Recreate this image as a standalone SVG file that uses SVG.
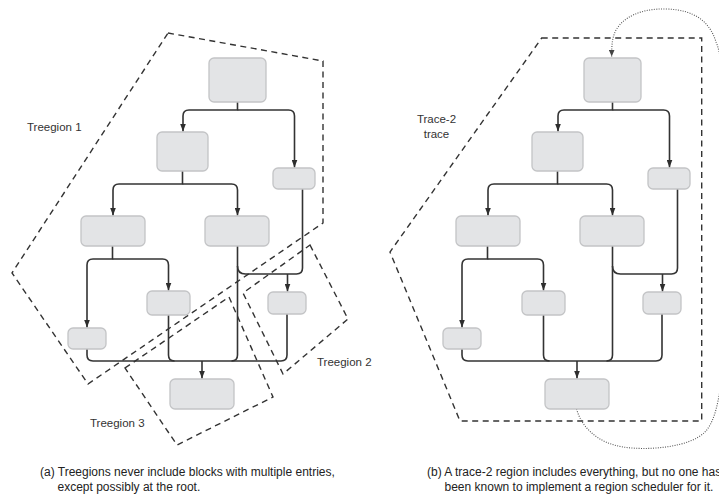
<svg xmlns="http://www.w3.org/2000/svg" width="719" height="495" viewBox="0 0 719 495">
<defs>
<marker id="arr" markerUnits="userSpaceOnUse" markerWidth="8" markerHeight="6" refX="8" refY="3" orient="auto"><path d="M0,0 L8,3 L0,6 z" fill="#2e2e2e"/></marker>
<marker id="arrd" markerUnits="userSpaceOnUse" markerWidth="7" markerHeight="6" refX="7" refY="3" orient="auto"><path d="M0,0 L7,3 L0,6 z" fill="#444"/></marker>
</defs>
<style>
.n{fill:#e3e4e6;stroke:#c3c4c6;stroke-width:1.3}
.c{fill:none;stroke:#333;stroke-width:1.6}
.a{marker-end:url(#arr)}
.d{fill:none;stroke:#333;stroke-width:1.4;stroke-dasharray:6 4.5}
.dot{fill:none;stroke:#555;stroke-width:1.1;stroke-dasharray:1 1.4}
.t{font-family:"Liberation Sans",Arial,sans-serif;font-size:11.5px;fill:#333}
.cap{font-family:"Liberation Sans",Arial,sans-serif;font-size:12px;fill:#222}
</style>

<g id="regions">
<polygon class="d" points="168,33 323,61 323,223 88,384 12,273"/>
<polygon class="d" points="310,245 348,319 283,374 243,293"/>
<polygon class="d" points="125,368 229,297 273,397 177,445"/>
<polygon class="d" points="541.7,38 701.7,38 701.7,421 460,421 390,252"/>
</g>

<g id="connectors">
<path class="c a" d="M237.5,102 V110 H189 Q183,110 183,116 V131.5"/>
<path class="c a" d="M237.5,110 H288.5 Q294.5,110 294.5,116 V167.5"/>
<path class="c a" d="M182.5,171 V184 H119 Q113,184 113,190 V215.5"/>
<path class="c a" d="M182.5,184 H231.5 Q237.5,184 237.5,190 V215.5"/>
<path class="c" d="M237.5,246 V355 Q237.5,361 231.5,361"/>
<path class="c" d="M237.5,266 Q237.5,274 245.5,274 H296.5 Q302.5,274 302.5,268 V189"/>
<path class="c a" d="M287.5,274 V291.5"/>
<path class="c a" d="M112.5,246 V259 H93 Q87,259 87,265 V327.5"/>
<path class="c a" d="M112.5,259 H162.5 Q168.5,259 168.5,265 V290.5"/>
<path class="c" d="M87,349 V355 Q87,361 93,361 H281 Q287,361 287,355 V314"/>
<path class="c" d="M168.5,315 V355 Q168.5,361 174.5,361"/>
<path class="c a" d="M202,361 V378.5"/>

<path class="c a" d="M612.5,102 V110 H564 Q558,110 558,116 V131.5"/>
<path class="c a" d="M612.5,110 H663.5 Q669.5,110 669.5,116 V167.5"/>
<path class="c a" d="M557.5,171 V184 H494 Q488,184 488,190 V215.5"/>
<path class="c a" d="M557.5,184 H606.5 Q612.5,184 612.5,190 V215.5"/>
<path class="c" d="M612.5,246 V355 Q612.5,361 606.5,361"/>
<path class="c" d="M612.5,266 Q612.5,274 620.5,274 H671.5 Q677.5,274 677.5,268 V189"/>
<path class="c a" d="M662.5,274 V291.5"/>
<path class="c a" d="M487.5,246 V259 H468 Q462,259 462,265 V327.5"/>
<path class="c a" d="M487.5,259 H537.5 Q543.5,259 543.5,265 V290.5"/>
<path class="c" d="M462,349 V355 Q462,361 468,361 H656 Q662,361 662,355 V314"/>
<path class="c" d="M543.5,315 V355 Q543.5,361 549.5,361"/>
<path class="c a" d="M577,361 V378.5"/>

<path class="dot" marker-end="url(#arrd)" d="M576.5,409 C582,428 598,443 623,447 C650,451 690,447 705,432 C716,420 718,400 722,380 L726,100 C722,70 720,50 716,42 C710,22 695,10 667,9 C640,8 623,18 616,30 C612,38 611.7,45 611.7,56.5"/>
</g>

<g id="a-root"><rect class="n" x="209" y="58" width="57" height="44" rx="5"/></g>
<g id="a-n2"><rect class="n" x="157" y="132" width="51" height="39" rx="5"/></g>
<g id="a-n3"><rect class="n" x="273" y="168" width="42" height="21" rx="5"/></g>
<g id="a-n4"><rect class="n" x="81" y="216" width="64" height="30" rx="5"/></g>
<g id="a-n5"><rect class="n" x="205" y="216" width="64" height="30" rx="5"/></g>
<g id="a-n6"><rect class="n" x="268" y="292" width="38" height="22" rx="5"/></g>
<g id="a-n7"><rect class="n" x="68" y="328" width="38" height="21" rx="5"/></g>
<g id="a-n8"><rect class="n" x="147" y="291" width="43" height="24" rx="5"/></g>
<g id="a-n9"><rect class="n" x="170" y="379" width="64" height="30" rx="5"/></g>

<g id="b-root"><rect class="n" x="584" y="58" width="57" height="44" rx="5"/></g>
<g id="b-n2"><rect class="n" x="532" y="132" width="51" height="39" rx="5"/></g>
<g id="b-n3"><rect class="n" x="648" y="168" width="42" height="21" rx="5"/></g>
<g id="b-n4"><rect class="n" x="456" y="216" width="64" height="30" rx="5"/></g>
<g id="b-n5"><rect class="n" x="580" y="216" width="64" height="30" rx="5"/></g>
<g id="b-n6"><rect class="n" x="643" y="292" width="38" height="22" rx="5"/></g>
<g id="b-n7"><rect class="n" x="443" y="328" width="38" height="21" rx="5"/></g>
<g id="b-n8"><rect class="n" x="522" y="291" width="43" height="24" rx="5"/></g>
<g id="b-n9"><rect class="n" x="545" y="379" width="64" height="30" rx="5"/></g>

<g id="labels">
<text class="t" x="27" y="131">Treegion 1</text>
<text class="t" x="317" y="366">Treegion 2</text>
<text class="t" x="90" y="427">Treegion 3</text>
<text class="t" x="436.5" y="123" text-anchor="middle">Trace-2</text>
<text class="t" x="436.5" y="138" text-anchor="middle">trace</text>
<text class="cap" x="40" y="476">(a) Treegions never include blocks with multiple entries,</text>
<text class="cap" x="57.5" y="491">except possibly at the root.</text>
<text class="cap" x="427" y="476">(b) A trace-2 region includes everything, but no one has</text>
<text class="cap" x="444.5" y="491">been known to implement a region scheduler for it.</text>
</g>
</svg>
